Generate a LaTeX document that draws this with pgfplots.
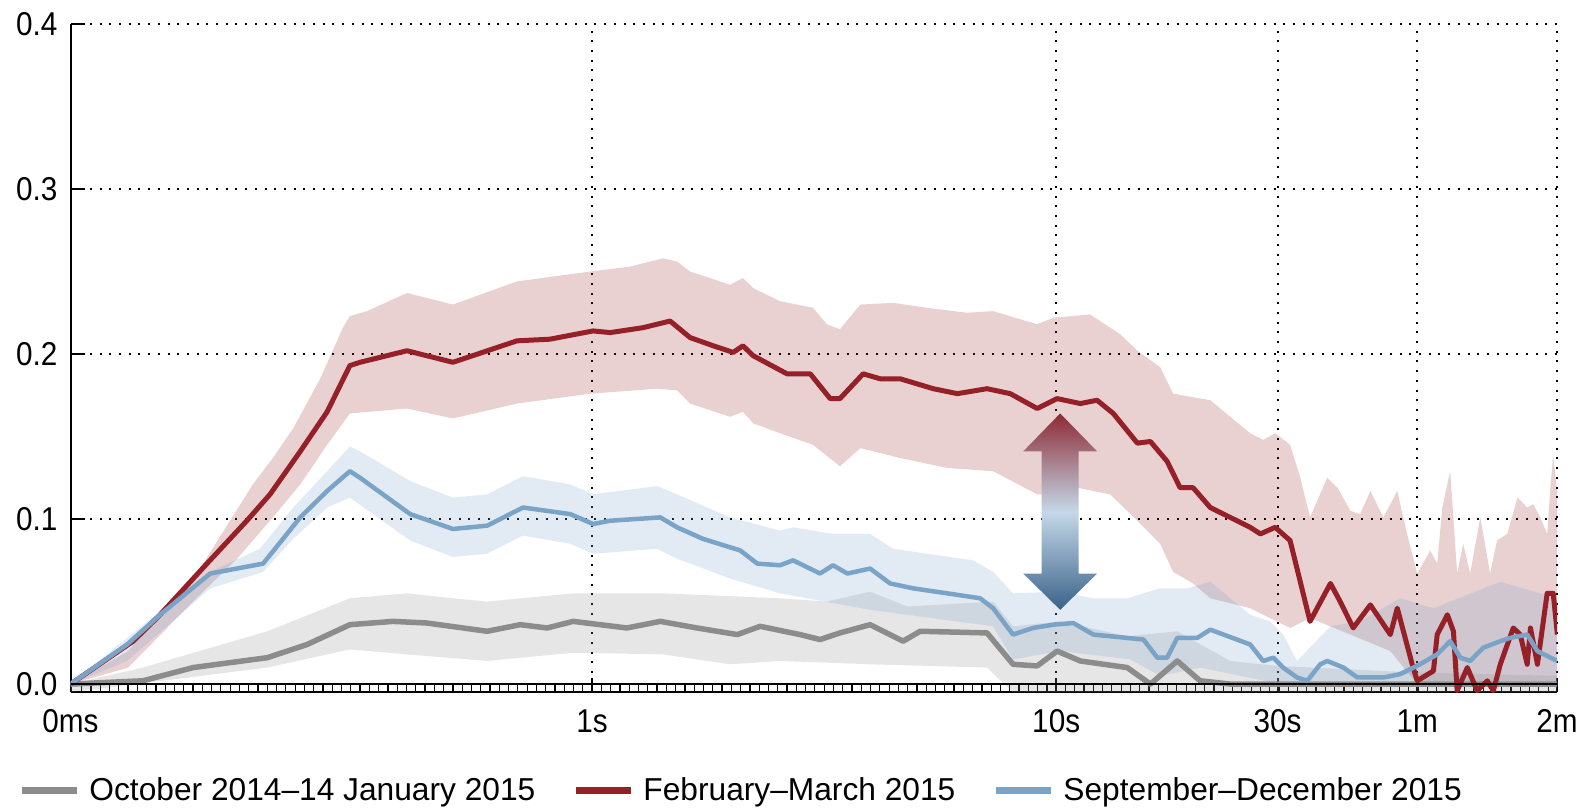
\documentclass[border=0pt]{standalone}
\usepackage{pgfplots}
\pgfplotsset{compat=1.18}
\usepgfplotslibrary{fillbetween}
\usepackage{fontspec}
\setmainfont{Liberation Sans}
\newfontfamily\tickfont[FakeStretch=0.9]{Liberation Sans}
\definecolor{redl}{RGB}{150,32,40}
\definecolor{bluel}{RGB}{122,163,200}
\definecolor{grayl}{RGB}{140,140,140}
\definecolor{arrtop}{RGB}{140,42,52}
\definecolor{arrmid}{RGB}{197,216,232}
\definecolor{arrbot}{RGB}{58,98,138}
\begin{document}
\begin{tikzpicture}
\begin{axis}[
  scale only axis, width=743.1pt, height=334.1pt,
  xmin=-1.124, xmax=2.0792, ymin=-0.005, ymax=0.4,
  axis x line=bottom, axis y line=left,
  axis line style={line width=1pt,-,black},
  xtick={-1.124,0,1,1.4771,1.7782,2.0792},
  xticklabels={0ms,1s,10s,30s,1m,2m},
  ytick={0,0.1,0.2,0.3,0.4},
  yticklabels={0.0,0.1,0.2,0.3,0.4},
  minor xtick={-1.10,-1.08,...,2.07},
  tick align=inside, major tick length=7pt, minor tick length=4.5pt,
  tick style={black, line width=1pt},
  minor tick style={black, line width=0.6pt},
  tick label style={font=\tickfont\fontsize{16.5}{18}\selectfont, black},
  xticklabel style={yshift=-5pt},
  yticklabel style={xshift=-3pt},
  xmajorgrids, ymajorgrids,
  major grid style={black, line width=1pt, dash pattern=on 1pt off 3.85pt},
  legend style={at={(-0.0353,-0.1475)}, anchor=west, draw=none, fill=none,
    inner sep=0pt, font=\fontsize{15.85}{18}\selectfont,
    nodes={inner sep=0pt}},
  legend columns=3,
  legend image code/.code={\draw[line width=3.5pt] (0pt,0pt) -- (27.5pt,0pt);},
  /tikz/every odd column/.append style={column sep=4.5pt},
  /tikz/every even column/.append style={column sep=18.5pt},
]
% ---- red band
\addplot[name path=ru, draw=none, forget plot] coordinates {
(-1.124,0) (-1.000,0.020) (-0.931,0.044) (-0.845,0.070) (-0.731,0.121) (-0.688,0.137)
(-0.644,0.155) (-0.586,0.185) (-0.537,0.216) (-0.522,0.223) (-0.485,0.226) (-0.399,0.237)
(-0.300,0.230) (-0.162,0.244) (-0.004,0.250) (0.082,0.253) (0.153,0.258) (0.183,0.256)
(0.211,0.250) (0.297,0.242) (0.325,0.246) (0.347,0.240) (0.405,0.232) (0.476,0.228)
(0.506,0.218) (0.534,0.215) (0.578,0.230) (0.649,0.231) (0.722,0.228) (0.808,0.225)
(0.864,0.226) (0.959,0.218) (0.994,0.222) (1.073,0.224) (1.138,0.212) (1.175,0.202)
(1.224,0.192) (1.252,0.176) (1.332,0.172) (1.418,0.152) (1.446,0.148) (1.472,0.152)
(1.504,0.145) (1.526,0.125) (1.547,0.101) (1.584,0.125) (1.606,0.119) (1.634,0.105)
(1.655,0.103) (1.677,0.117) (1.705,0.101) (1.735,0.117) (1.756,0.091) (1.778,0.067)
(1.806,0.081) (1.821,0.073) (1.832,0.107) (1.849,0.129) (1.864,0.067) (1.877,0.085)
(1.892,0.067) (1.914,0.101) (1.935,0.067) (1.950,0.087) (1.972,0.091) (1.994,0.113)
(2.015,0.107) (2.028,0.109) (2.043,0.101) (2.058,0.091) (2.065,0.119) (2.071,0.139)
(2.080,0.115)};
\addplot[name path=rl, draw=none, forget plot] coordinates {
(-1.124,0) (-1.000,0.010) (-0.860,0.050) (-0.765,0.076) (-0.688,0.101) (-0.629,0.121)
(-0.571,0.145) (-0.522,0.164) (-0.399,0.167) (-0.300,0.161) (-0.162,0.170) (-0.004,0.176)
(0.140,0.179) (0.183,0.178) (0.211,0.170) (0.297,0.162) (0.325,0.165) (0.347,0.158)
(0.405,0.152) (0.476,0.145) (0.534,0.132) (0.578,0.143) (0.664,0.137) (0.765,0.131)
(0.864,0.129) (0.959,0.115) (1.009,0.115) (1.045,0.119) (1.116,0.115) (1.175,0.099)
(1.224,0.085) (1.252,0.068) (1.295,0.061) (1.332,0.052) (1.418,0.046) (1.504,0.034)
(1.547,0.040) (1.634,0.030) (1.720,0.020) (1.778,0.0) (2.080,0.0)};
\addplot[fill=redl, fill opacity=0.21, draw=none, forget plot] fill between[of=ru and rl];
% ---- gray band
\addplot[name path=gu, draw=none, forget plot] coordinates {
(-1.124,0) (-0.968,0.010) (-0.700,0.032) (-0.522,0.052) (-0.399,0.055) (-0.300,0.052)
(-0.226,0.050) (-0.041,0.055) (0.153,0.055) (0.405,0.052) (0.506,0.050) (0.599,0.056)
(0.679,0.047) (0.864,0.050) (0.907,0.035) (1.009,0.038) (1.153,0.029) (1.261,0.032)
(1.375,0.014) (1.476,0.011) (1.778,0.007) (2.080,0.005)};
\addplot[name path=gl, draw=none, forget plot] coordinates {
(-1.124,-0.005) (-0.700,0.010) (-0.522,0.021) (-0.399,0.018) (-0.226,0.014) (-0.041,0.019)
(0.153,0.018) (0.297,0.012) (0.405,0.014) (0.599,0.012) (0.851,0.010) (0.907,-0.005)
(2.080,-0.005)};
\addplot[fill=grayl, fill opacity=0.22, draw=none, forget plot] fill between[of=gu and gl];
% ---- blue band
\addplot[name path=bu, draw=none, forget plot] coordinates {
(-1.124,0) (-1.002,0.028) (-0.823,0.068) (-0.716,0.082) (-0.644,0.107) (-0.571,0.129)
(-0.522,0.144) (-0.500,0.141) (-0.392,0.123) (-0.300,0.113) (-0.226,0.115) (-0.149,0.126)
(-0.047,0.121) (0.002,0.115) (0.140,0.120) (0.183,0.115) (0.297,0.101) (0.405,0.093)
(0.433,0.095) (0.519,0.091) (0.599,0.091) (0.649,0.082) (0.722,0.079) (0.821,0.075)
(0.864,0.068) (0.907,0.055) (1.009,0.056) (1.080,0.052) (1.153,0.052) (1.224,0.058)
(1.282,0.058) (1.332,0.062) (1.418,0.042) (1.461,0.038) (1.489,0.030) (1.519,0.014)
(1.591,0.035) (1.655,0.038) (1.741,0.052) (1.813,0.046) (1.957,0.062) (2.080,0.052)};
\addplot[name path=bl, draw=none, forget plot] coordinates {
(-1.124,0) (-1.002,0.014) (-0.823,0.058) (-0.709,0.068) (-0.644,0.088) (-0.571,0.107)
(-0.522,0.113) (-0.392,0.087) (-0.300,0.077) (-0.226,0.079) (-0.149,0.090) (-0.047,0.085)
(0.002,0.079) (0.140,0.082) (0.183,0.076) (0.297,0.064) (0.405,0.055) (0.599,0.045)
(0.864,0.035) (0.907,0.015) (1.009,0.020) (1.159,0.015) (1.224,0.005) (1.310,0.010)
(1.483,0) (2.080,0)};
\addplot[fill=bluel, fill opacity=0.22, draw=none, forget plot] fill between[of=bu and bl];
% ---- lines
\addplot[grayl, line width=2.75pt, line join=round] coordinates {
(-1.124,0) (-0.968,0.002) (-0.860,0.010) (-0.700,0.016) (-0.614,0.024) (-0.522,0.036)
(-0.429,0.038) (-0.356,0.037) (-0.226,0.032) (-0.155,0.036) (-0.097,0.034) (-0.041,0.038)
(0.075,0.034) (0.147,0.038) (0.226,0.034) (0.313,0.030) (0.362,0.035) (0.448,0.030)
(0.491,0.027) (0.534,0.031) (0.599,0.036) (0.670,0.026) (0.707,0.032) (0.851,0.031)
(0.907,0.012) (0.959,0.011) (1.002,0.020) (1.052,0.014) (1.153,0.010) (1.203,0.0)
(1.261,0.014) (1.310,0.002) (1.375,0) (2.080,0)};
\addlegendentry{October 2014--14 January 2015}
\addplot[redl, line width=2.5pt, line join=round] coordinates {
(-1.124,0) (-0.989,0.026) (-0.931,0.042) (-0.830,0.073) (-0.744,0.099) (-0.694,0.115)
(-0.629,0.141) (-0.571,0.165) (-0.522,0.193) (-0.500,0.195) (-0.399,0.202) (-0.300,0.195)
(-0.162,0.208) (-0.091,0.209) (0.002,0.214) (0.039,0.213) (0.110,0.216) (0.168,0.220)
(0.211,0.210) (0.261,0.205) (0.304,0.201) (0.325,0.205) (0.347,0.199) (0.420,0.188)
(0.470,0.188) (0.513,0.173) (0.534,0.173) (0.584,0.188) (0.621,0.185) (0.664,0.185)
(0.735,0.179) (0.787,0.176) (0.851,0.179) (0.901,0.176) (0.959,0.167) (1.002,0.173)
(1.052,0.170) (1.088,0.172) (1.123,0.164) (1.175,0.146) (1.203,0.147) (1.239,0.135)
(1.267,0.119) (1.295,0.119) (1.332,0.107) (1.418,0.095) (1.440,0.091) (1.472,0.095)
(1.504,0.087) (1.547,0.038) (1.591,0.061) (1.612,0.050) (1.640,0.034) (1.677,0.048)
(1.720,0.030) (1.735,0.046) (1.769,0.010) (1.778,0.002) (1.813,0.008) (1.821,0.030)
(1.843,0.042) (1.856,0.032) (1.864,-0.004) (1.886,0.010) (1.907,-0.004) (1.929,0.002)
(1.942,-0.004) (1.957,0.012) (1.985,0.034) (2.000,0.030) (2.015,0.012) (2.022,0.034)
(2.037,0.012) (2.058,0.055) (2.071,0.055) (2.080,0.030)};
\addlegendentry{February--March 2015}
\addplot[bluel, line width=2.25pt, line join=round] coordinates {
(-1.124,0) (-1.002,0.024) (-0.931,0.042) (-0.823,0.067) (-0.709,0.073) (-0.629,0.101)
(-0.571,0.117) (-0.522,0.129) (-0.500,0.125) (-0.392,0.103) (-0.300,0.094) (-0.226,0.096)
(-0.149,0.107) (-0.047,0.103) (0.002,0.097) (0.039,0.099) (0.147,0.101) (0.183,0.095)
(0.239,0.088) (0.319,0.081) (0.356,0.073) (0.405,0.072) (0.433,0.075) (0.491,0.067)
(0.519,0.072) (0.550,0.067) (0.599,0.070) (0.642,0.061) (0.692,0.058) (0.765,0.055)
(0.836,0.052) (0.864,0.046) (0.907,0.030) (0.950,0.034) (0.994,0.036) (1.037,0.037)
(1.080,0.030) (1.188,0.027) (1.218,0.016) (1.239,0.016) (1.261,0.028) (1.304,0.028)
(1.332,0.033) (1.418,0.024) (1.446,0.014) (1.468,0.016) (1.489,0.010) (1.519,0.004)
(1.541,0.002) (1.569,0.012) (1.584,0.014) (1.619,0.010) (1.649,0.004) (1.705,0.004)
(1.741,0.006) (1.784,0.012) (1.821,0.018) (1.849,0.026) (1.871,0.016) (1.892,0.014)
(1.920,0.022) (1.957,0.026) (1.978,0.028) (2.015,0.030) (2.037,0.020) (2.065,0.016)
(2.080,0.014)};
\addlegendentry{September--December 2015}
% zero line
\draw[black, line width=1pt] (axis cs:-1.124,0) -- (axis cs:2.0792,0);
% arrow
\shade[top color=arrtop, bottom color=arrbot, middle color=arrmid]
 (axis cs:1.0086,0.164) -- (axis cs:1.0883,0.141) -- (axis cs:1.0485,0.141)
 -- (axis cs:1.0485,0.067) -- (axis cs:1.0883,0.067) -- (axis cs:1.0086,0.045)
 -- (axis cs:0.9289,0.067) -- (axis cs:0.9687,0.067) -- (axis cs:0.9687,0.141)
 -- (axis cs:0.9289,0.141) -- cycle;
\end{axis}
\pgfresetboundingbox
\path[use as bounding box] ([shift={(-35.25pt,-57.375pt)}]current axis.south west)
  rectangle ([shift={(11pt,12pt)}]current axis.north east);
\end{tikzpicture}
\end{document}
